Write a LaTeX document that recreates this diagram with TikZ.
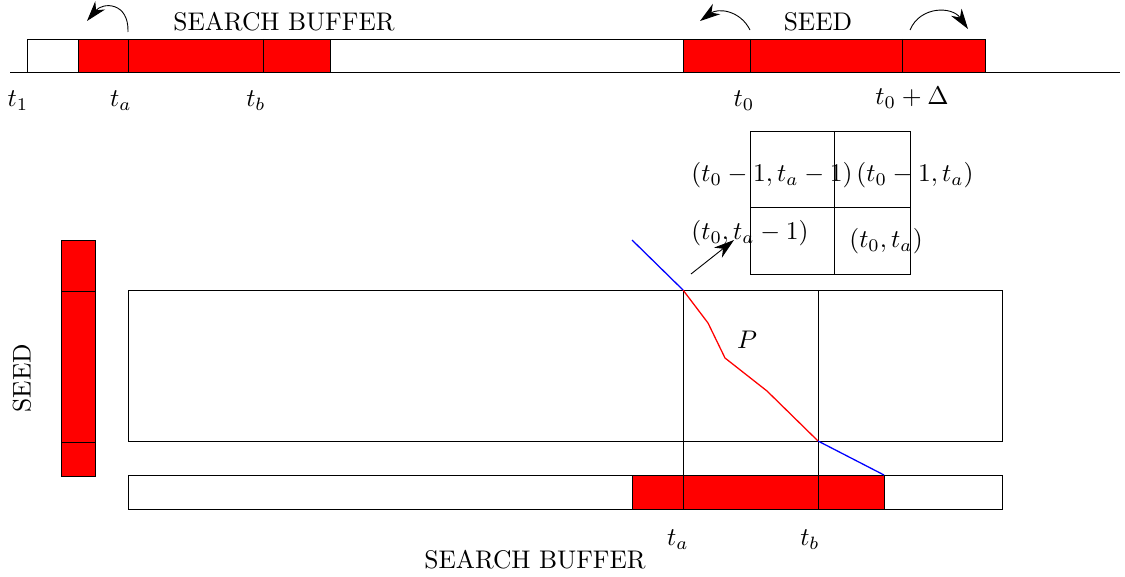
\documentclass[tikz,border=0pt]{standalone}
\usetikzlibrary{arrows.meta}
\begin{document}
\begin{tikzpicture}[x=0.3922pt,y=-0.3922pt,
  line width=0.35pt,
  cell/.style={draw=black,fill=red},
  frame/.style={draw=black},
  lbl/.style={inner sep=0pt},
  arr/.style={-{Stealth[length=8pt,width=5pt,inset=2.5pt]}}]
\useasboundingbox (0,0) rectangle (1125,576);
% ---- top time line ----
\draw (10,72) -- (1120,72);
\draw[frame] (27,39) rectangle (78,72);
\draw[cell] (78,39) rectangle (330,72);
\draw (128,39) -- (128,72);
\draw (263,39) -- (263,72);
\draw (330,39) -- (683,39);
\draw[cell] (683,39) rectangle (985,72);
\draw (750,39) -- (750,72);
\draw (902,39) -- (902,72);
\node[lbl] (t1) at (18,101) {$t_1$};
\node[lbl] (ta1) at (121,101) {$t_a$};
\node[lbl] (tb1) at (256,101) {$t_b$};
\node[lbl] (t01) at (744,101) {$t_0$};
\node[lbl] (t0d) at (912,98) {$t_0+\Delta$};
\node[lbl] (sbtop) at (284,22) {SEARCH BUFFER};
\node[lbl] (seedtop) at (818,22) {SEED};
\coordinate (a1s) at (128,32); \coordinate (a1e) at (87,21);
\coordinate (a2s) at (750,30); \coordinate (a2e) at (700,21);
\coordinate (a3s) at (910,30); \coordinate (a3e) at (968,29);
\draw[arr] (a1s) .. controls (129,2) and (103,2) .. (a1e);
\draw[arr] (a2s) .. controls (740,10) and (718,8) .. (a2e);
\draw[arr] (a3s) .. controls (920,6) and (952,6) .. (a3e);
% ---- small grid ----
\draw[frame] (750,131) rectangle (910,274);
\draw (834,131) -- (834,274);
\draw (750,207) -- (910,207);
\node[lbl] (c11) at (772,175) {$(t_0-1,t_a-1)$};
\node[lbl] (c12) at (915,175) {$(t_0-1,t_a)$};
\node[lbl] (c21) at (750,233) {$(t_0,t_a-1)$};
\node[lbl] (c22) at (886,241) {$(t_0,t_a)$};
\coordinate (ps) at (691,274);
\draw[arr] (ps) -- (734,240);
% ---- main matrix ----
\draw[frame] (128,290) rectangle (1002,441);
\coordinate (A) at (683,290);
\coordinate (B) at (818,441);
\coordinate (p1) at (708,323);
\coordinate (p2) at (725,358);
\coordinate (p3) at (767,391);
\coordinate (bs) at (632,240);
\coordinate (be) at (884,475);
\node[lbl] (P) at (747,340) {$P$};
% ---- bottom buffer ----
\draw[frame] (128,475) rectangle (1002,509);
\draw[cell] (632,475) rectangle (884,509);
\draw (683,290) -- (683,509);
\draw (818,290) -- (818,509);
\draw[red,line width=0.5pt] (A) -- (p1) -- (p2) -- (p3) -- (B);
\draw[blue,line width=0.5pt] (bs) -- (A);
\draw[blue,line width=0.5pt] (B) -- (be);
\node[lbl] (ta2) at (678,540) {$t_a$};
\node[lbl] (tb2) at (810,540) {$t_b$};
\node[lbl] (sbbot) at (535,560) {SEARCH BUFFER};
% ---- left seed bar ----
\draw[cell] (61,240) rectangle (95,476);
\draw (61,291) -- (95,291);
\draw (61,442) -- (95,442);
\node[lbl,rotate=90] (seedleft) at (22,378) {SEED};
\end{tikzpicture}
\end{document}
